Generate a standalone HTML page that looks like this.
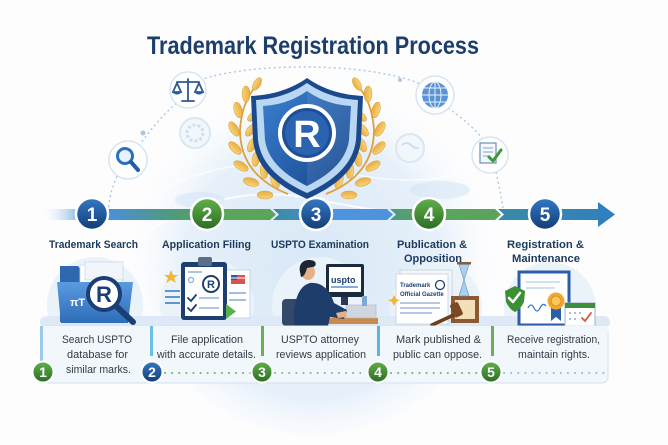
<!DOCTYPE html>
<html><head><meta charset="utf-8"><style>
html,body{margin:0;padding:0;background:#fdfdfe;}
svg{display:block;}
text{font-family:"Liberation Sans",Arial,sans-serif;}
</style></head><body>
<svg width="668" height="445" viewBox="0 0 668 445" xmlns="http://www.w3.org/2000/svg">
<defs>
<radialGradient id="dome" cx="0.5" cy="0.55" r="0.5">
<stop offset="0" stop-color="#d8e8f7"/><stop offset="0.7" stop-color="#e6f0fa"/><stop offset="1" stop-color="#f7fafd" stop-opacity="0"/>
</radialGradient>
<linearGradient id="gBlue" x1="0" y1="0" x2="0" y2="1"><stop offset="0" stop-color="#3479c4"/><stop offset="1" stop-color="#123d76"/></linearGradient>
<linearGradient id="gGreen" x1="0" y1="0" x2="0" y2="1"><stop offset="0" stop-color="#62b04c"/><stop offset="1" stop-color="#2a6c22"/></linearGradient>
<linearGradient id="segA" x1="40" y1="0" x2="205" y2="0" gradientUnits="userSpaceOnUse">
<stop offset="0" stop-color="#ffffff" stop-opacity="0"/><stop offset="0.2" stop-color="#a6c9ec"/><stop offset="0.4" stop-color="#4b8fdb"/><stop offset="0.8" stop-color="#4f9a7c"/><stop offset="1" stop-color="#58a45a"/>
</linearGradient>
<linearGradient id="segC" x1="273" y1="0" x2="320" y2="0" gradientUnits="userSpaceOnUse"><stop offset="0" stop-color="#3a8aa0"/><stop offset="1" stop-color="#4a90d8"/></linearGradient>
<linearGradient id="segE" x1="390" y1="0" x2="500" y2="0" gradientUnits="userSpaceOnUse"><stop offset="0" stop-color="#4b9a86"/><stop offset="0.3" stop-color="#5ca45a"/><stop offset="1" stop-color="#5aa35c"/></linearGradient>
<linearGradient id="segF" x1="498" y1="0" x2="615" y2="0" gradientUnits="userSpaceOnUse"><stop offset="0" stop-color="#3a8aa8"/><stop offset="1" stop-color="#2f7fbf"/></linearGradient>
<linearGradient id="shIn" x1="0" y1="0" x2="1" y2="1"><stop offset="0" stop-color="#3b7fcf"/><stop offset="1" stop-color="#16468c"/></linearGradient>
<linearGradient id="folder" x1="0" y1="0" x2="0" y2="1"><stop offset="0" stop-color="#5a9be0"/><stop offset="1" stop-color="#2f6cb8"/></linearGradient>
<linearGradient id="gold" x1="0" y1="0" x2="0" y2="1"><stop offset="0" stop-color="#f8d57a"/><stop offset="1" stop-color="#e8ac40"/></linearGradient>
</defs>

<!-- dome background -->
<circle cx="313" cy="250" r="185" fill="url(#dome)"/>
<path d="M150 230 Q230 180 320 200 T480 210" fill="none" stroke="#ffffff" stroke-width="2" opacity="0.8"/>
<path d="M160 190 Q240 150 330 170 T470 170" fill="none" stroke="#ffffff" stroke-width="1.5" opacity="0.7"/>
<ellipse cx="200" cy="200" rx="25" ry="8" fill="#d5e6f5" opacity="0.6"/>
<ellipse cx="440" cy="190" rx="30" ry="9" fill="#d5e6f5" opacity="0.6"/>
<!-- faint secondary icons -->
<circle cx="195" cy="133" r="15" fill="#f2f7fc" stroke="#d9e7f3" stroke-width="2"/>
<circle cx="195" cy="133" r="8" fill="none" stroke="#cddff0" stroke-width="3" stroke-dasharray="3 2"/>
<circle cx="410" cy="148" r="14" fill="#f2f7fc" stroke="#d9e7f3" stroke-width="2"/>
<path d="M402 145 q5 -4 9 0 t8 3" fill="none" stroke="#cddff0" stroke-width="2"/>

<!-- dashed arcs -->
<g fill="none" stroke="#a9c8e6" stroke-width="1.4" stroke-dasharray="2 3">
<path d="M108 212 C110 190 116 175 124 165"/>
<path d="M136 150 C150 130 165 112 178 102"/>
<path d="M200 80 C250 62 370 62 420 84"/>
<path d="M448 108 C462 118 474 128 482 138"/>
<path d="M496 172 C499 185 501 196 503 208"/>
</g>
<circle cx="143" cy="133" r="2.5" fill="#a9c8e6"/>
<circle cx="400" cy="80" r="2" fill="#a9c8e6"/>

<!-- icon circles -->
<circle cx="188" cy="90" r="18" fill="#ffffff" stroke="#d6e5f2" stroke-width="1.5"/>
<g stroke="#2c5a92" stroke-width="1.8" fill="none" stroke-linecap="round">
<line x1="188" y1="79" x2="188" y2="100"/><line x1="177" y1="82" x2="199" y2="82"/>
<line x1="182" y1="101" x2="194" y2="101"/>
<path d="M177 83 L173 92 L181 92 Z M199 83 L195 92 L203 92 Z"/>
</g>
<path d="M172 92 Q177 97 182 92 Z M194 92 Q199 97 204 92 Z" fill="#2c5a92"/>

<circle cx="128" cy="160" r="19" fill="#ffffff" stroke="#d6e5f2" stroke-width="1.5"/>
<circle cx="125" cy="156" r="7.5" fill="#e8f2fc" stroke="#2c6fbf" stroke-width="3"/>
<line x1="131" y1="162" x2="138" y2="170" stroke="#1f5ea8" stroke-width="4" stroke-linecap="round"/>

<circle cx="435" cy="95" r="19" fill="#ffffff" stroke="#d6e5f2" stroke-width="1.5"/>
<circle cx="435" cy="95" r="13" fill="#5b93d6"/>
<g stroke="#e8f1fb" stroke-width="1" fill="none">
<ellipse cx="435" cy="95" rx="6" ry="13"/><line x1="435" y1="82" x2="435" y2="108"/>
<line x1="422" y1="95" x2="448" y2="95"/><line x1="424" y1="88" x2="446" y2="88"/><line x1="424" y1="102" x2="446" y2="102"/>
</g>

<circle cx="490" cy="155" r="18" fill="#ffffff" stroke="#d6e5f2" stroke-width="1.5"/>
<rect x="480" y="143" width="16" height="20" fill="#f4f8fc" stroke="#6a8fb8" stroke-width="1.2"/>
<g stroke="#7fa3cc" stroke-width="1"><line x1="483" y1="148" x2="493" y2="148"/><line x1="483" y1="152" x2="493" y2="152"/><line x1="483" y1="156" x2="490" y2="156"/></g>
<path d="M489 157 L493 161 L501 150" fill="none" stroke="#3f9a35" stroke-width="3" stroke-linecap="round" stroke-linejoin="round"/>

<!-- laurels -->
<g id="laurelL" fill="url(#gold)" stroke="#dc9a30" stroke-width="0.5">
<path d="M288 194 Q240 175 240 130 Q242 100 258 84" fill="none" stroke="#dca040" stroke-width="1.8"/>
<ellipse cx="265" cy="195" rx="8" ry="4" transform="rotate(180 265 195)"/>
<ellipse cx="275" cy="181" rx="7.5" ry="3.8" transform="rotate(250 275 181)"/>
<ellipse cx="251" cy="182" rx="8" ry="4" transform="rotate(195 251 182)"/>
<ellipse cx="264" cy="171" rx="7.5" ry="3.8" transform="rotate(265 264 171)"/>
<ellipse cx="241" cy="166" rx="8" ry="4" transform="rotate(210 241 166)"/>
<ellipse cx="256" cy="159" rx="7.5" ry="3.8" transform="rotate(280 256 159)"/>
<ellipse cx="235" cy="148" rx="8" ry="4" transform="rotate(225 235 148)"/>
<ellipse cx="252" cy="145" rx="7.5" ry="3.8" transform="rotate(295 252 145)"/>
<ellipse cx="234" cy="129" rx="8" ry="4" transform="rotate(240 234 129)"/>
<ellipse cx="251" cy="130" rx="7.5" ry="3.8" transform="rotate(310 251 130)"/>
<ellipse cx="238" cy="110" rx="8" ry="4" transform="rotate(255 238 110)"/>
<ellipse cx="254" cy="116" rx="7.5" ry="3.8" transform="rotate(325 254 116)"/>
<ellipse cx="246" cy="94" rx="8" ry="4" transform="rotate(269 246 94)"/>
<ellipse cx="261" cy="104" rx="7.5" ry="3.8" transform="rotate(339 261 104)"/>
<ellipse cx="257" cy="84" rx="7" ry="3.5" transform="rotate(300 257 84)"/>
</g>
<use href="#laurelL" transform="translate(614,0) scale(-1,1)"/>

<!-- shield -->
<path d="M307 78 C290 90 271 95 251 96 L253 140 C256 170 280 187 307 199 C334 187 358 170 361 140 L363 96 C343 95 324 90 307 78 Z" fill="#1a4a8c"/>
<path d="M307 83 C291 94 274 99 256 100 L258 140 C261 166 283 182 307 193 C331 182 353 166 356 140 L358 100 C340 99 323 94 307 83 Z" fill="#b9d6f2"/>
<path d="M307 91 C293 101 278 105 263 106 L265 140 C268 162 287 176 307 186 C327 176 346 162 349 140 L351 106 C336 105 321 101 307 91 Z" fill="url(#shIn)"/>
<path d="M307 91 L307 186 C327 176 346 162 349 140 L351 106 C336 105 321 101 307 91 Z" fill="#ffffff" opacity="0.08"/>
<circle cx="307" cy="133" r="27" fill="#1c4f98" stroke="#ffffff" stroke-width="4"/>
<circle cx="307" cy="133" r="22" fill="#2a63b0"/>
<text x="307" y="147" font-size="38" font-weight="bold" fill="#ffffff" text-anchor="middle">R</text>

<!-- title -->
<text x="147" y="54" font-size="25" font-weight="bold" fill="#1d3d6b" textLength="332" lengthAdjust="spacingAndGlyphs">Trademark Registration Process</text>

<!-- progress bar -->
<rect x="40" y="209" width="165" height="11" fill="url(#segA)"/>
<polygon points="200,209 270,209 276,214.5 270,220 200,220" fill="#5aa55a"/>
<polygon points="273,209 320,209 320,220 273,220 279,214.5" fill="url(#segC)"/>
<polygon points="320,209 387,209 393,214.5 387,220 320,220" fill="#4e93dd"/>
<polygon points="390,209 495,209 501,214.5 495,220 390,220 396,214.5" fill="url(#segE)"/>
<polygon points="498,209 598,209 598,202 615,214.5 598,227 598,220 498,220 504,214.5" fill="url(#segF)"/>

<g font-size="19" font-weight="bold" fill="#ffffff" text-anchor="middle">
<circle cx="92" cy="214" r="16" fill="url(#gBlue)" stroke="#ffffff" stroke-width="2.5"/><text x="92" y="221">1</text>
<circle cx="207" cy="214" r="16" fill="url(#gGreen)" stroke="#ffffff" stroke-width="2.5"/><text x="207" y="221">2</text>
<circle cx="316" cy="214" r="16" fill="url(#gBlue)" stroke="#ffffff" stroke-width="2.5"/><text x="316" y="221">3</text>
<circle cx="429" cy="214" r="16" fill="url(#gGreen)" stroke="#ffffff" stroke-width="2.5"/><text x="429" y="221">4</text>
<circle cx="545" cy="214" r="16" fill="url(#gBlue)" stroke="#ffffff" stroke-width="2.5"/><text x="545" y="221">5</text>
</g>

<!-- step titles -->
<g font-size="11" font-weight="bold" fill="#1b3a5c">
<text x="49" y="248" textLength="89" lengthAdjust="spacingAndGlyphs">Trademark Search</text>
<text x="162" y="248" textLength="89" lengthAdjust="spacingAndGlyphs">Application Filing</text>
<text x="271" y="248" textLength="98" lengthAdjust="spacingAndGlyphs">USPTO Examination</text>
<text x="397" y="248" textLength="70" lengthAdjust="spacingAndGlyphs">Publication &amp;</text>
<text x="404" y="262" textLength="58" lengthAdjust="spacingAndGlyphs">Opposition</text>
<text x="507" y="248" textLength="77" lengthAdjust="spacingAndGlyphs">Registration &amp;</text>
<text x="512" y="262" textLength="68" lengthAdjust="spacingAndGlyphs">Maintenance</text>
</g>

<!-- column backdrops -->
<g fill="#eaf2fa">
<circle cx="95" cy="305" r="48"/><circle cx="207" cy="305" r="47"/><circle cx="320" cy="305" r="48"/><circle cx="436" cy="308" r="46"/><circle cx="550" cy="308" r="46"/>
</g>
<rect x="40" y="316" width="570" height="12" rx="6" fill="#dde9f6"/>

<!-- step 1 folder -->
<path d="M60 322 L60 266 L78 266 L82 271 L122 271 L122 322 Z" fill="#2f68b0"/>
<rect x="80" y="265" width="42" height="22" fill="#ffffff" stroke="#c9d9ea" stroke-width="0.8"/>
<rect x="85" y="262" width="38" height="18" fill="#f2f6fb" stroke="#c9d9ea" stroke-width="0.8"/>
<path d="M57 282 L133 282 L128 323 L61 323 Z" fill="url(#folder)"/>
<text x="70" y="306" font-size="11" font-weight="bold" fill="#ffffff">πT</text>
<line x1="116" y1="306" x2="133" y2="322" stroke="#1b3f74" stroke-width="6" stroke-linecap="round"/>
<circle cx="104" cy="294" r="16" fill="#ffffff" stroke="#1b3f74" stroke-width="4"/>
<text x="104" y="302" font-size="22" font-weight="bold" fill="#1b3f74" text-anchor="middle">R</text>

<!-- step 2 clipboard -->
<g stroke="#5d96d3" stroke-width="2"><line x1="165" y1="291" x2="180" y2="291"/><line x1="165" y1="297" x2="180" y2="297"/><line x1="165" y1="303" x2="180" y2="303"/></g>
<polygon points="171,270 173,275 178,275 174,278 176,283 171,280 166,283 168,278 164,275 169,275" fill="#f2b632"/>
<rect x="222" y="270" width="28" height="48" fill="#ffffff" stroke="#c6d6e8"/>
<rect x="231" y="275" width="14" height="9" fill="#d9534f"/><rect x="231" y="275" width="6" height="5" fill="#2b5aa0"/>
<line x1="231" y1="278" x2="245" y2="278" stroke="#fff" stroke-width="1"/>
<g stroke="#9fc0e3" stroke-width="2"><line x1="229" y1="293" x2="246" y2="293"/><line x1="229" y1="300" x2="246" y2="300"/></g>
<rect x="181" y="262" width="46" height="58" rx="3" fill="#1d3f70"/>
<rect x="185" y="267" width="38" height="49" fill="#ffffff"/>
<rect x="198" y="257" width="14" height="9" rx="2" fill="#5d6f86"/>
<circle cx="211" cy="284" r="8" fill="#ffffff" stroke="#1d3f70" stroke-width="2"/>
<text x="211" y="288" font-size="11" font-weight="bold" fill="#1d3f70" text-anchor="middle">R</text>
<circle cx="191" cy="280" r="2.5" fill="none" stroke="#7faee0" stroke-width="1.2"/>
<g fill="none" stroke="#1d3f70" stroke-width="1.8" stroke-linecap="round"><path d="M188 298 L191 301 L196 295"/><path d="M188 308 L191 311 L196 305"/></g>
<g stroke="#9fc0e3" stroke-width="1.8"><line x1="199" y1="298" x2="219" y2="298"/><line x1="199" y1="308" x2="219" y2="308"/><line x1="188" y1="272" x2="202" y2="272"/></g>
<polygon points="226,304 236,311.5 226,319" fill="#5bb04a"/>

<!-- step 3 examiner -->
<rect x="318" y="318" width="60" height="6" fill="#c98a4b"/>
<rect x="346" y="305" width="30" height="13" fill="#cfd6df" stroke="#aab6c4" stroke-width="0.6"/>
<rect x="326" y="264" width="38" height="33" rx="2" fill="#1c2a3e"/>
<rect x="329" y="267" width="32" height="25" fill="#ffffff"/>
<text x="331" y="283" font-size="9" font-weight="bold" fill="#1d3f70">uspto</text>
<line x1="331" y1="287" x2="358" y2="287" stroke="#3b7bc8" stroke-width="1.2"/>
<rect x="341" y="297" width="7" height="8" fill="#2b3a50"/>
<rect x="362" y="296" width="5" height="10" fill="#7fa8d6"/>
<rect x="282" y="299" width="26" height="27" rx="4" fill="#34496a"/>
<path d="M294 326 C293 302 298 286 310 283 C322 282 330 290 334 303 L347 310 L344 319 L330 317 L328 326 Z" fill="#1f3d6b"/>
<path d="M336 313 L346 311 L347 317 L338 318 Z" fill="#e5b08a"/>
<ellipse cx="308" cy="272" rx="7" ry="8" fill="#e5b08a"/>
<path d="M300 272 C298 262 306 258 314 261 C317 263 316 267 312 267 L307 268 C306 272 304 277 301 277 Z" fill="#1d2535"/>

<!-- step 4 publication -->
<rect x="400" y="270" width="52" height="50" fill="#f2f5f9" stroke="#cfd8e3"/>
<rect x="396" y="274" width="52" height="50" fill="#ffffff" stroke="#cfd8e3"/>
<text x="400" y="287" font-size="6" font-weight="bold" fill="#1d3f70">Trademark</text>
<text x="400" y="296" font-size="6" font-weight="bold" fill="#1d3f70">Official Gazette</text>
<circle cx="440" cy="285" r="4.5" fill="none" stroke="#1d3f70" stroke-width="1.3"/>
<g stroke="#9fb8d6" stroke-width="1.4"><line x1="400" y1="303" x2="440" y2="303"/><line x1="400" y1="308" x2="440" y2="308"/><line x1="400" y1="313" x2="432" y2="313"/></g>
<polygon points="394,295 396,299 400,300 396,302 394,306 392,302 388,300 392,299" fill="#f2b632"/>
<rect x="451" y="296" width="28" height="27" fill="#8a5a32"/>
<rect x="455" y="300" width="20" height="19" fill="#f3dfb8"/>
<rect x="457" y="262" width="14" height="2.5" fill="#8a5a32"/><rect x="457" y="296" width="14" height="2.5" fill="#8a5a32"/>
<path d="M459 264.5 L469 264.5 L464 280 Z M464 280 L459 296 L469 296 Z" fill="#a9d0f0" stroke="#6d8fb3" stroke-width="0.6"/>
<line x1="432" y1="325" x2="458" y2="313" stroke="#6a3f1f" stroke-width="3.5" stroke-linecap="round"/>
<rect x="452" y="303" width="9" height="14" rx="2" fill="#7a4a25" transform="rotate(-25 456 310)"/>

<!-- step 5 registration -->
<rect x="519" y="272" width="50" height="53" fill="#ffffff" stroke="#2a5ea8" stroke-width="3"/>
<g stroke="#b9cde3" stroke-width="1.3"><line x1="526" y1="282" x2="560" y2="282"/><line x1="526" y1="288" x2="555" y2="288"/></g>
<path d="M528 308 q3 -6 6 0 t6 0 t6 -2" fill="none" stroke="#3a7ac4" stroke-width="1.3"/>
<polygon points="551,306 561,306 561,321 556,317 551,321" fill="#2d5fa8"/>
<circle cx="556" cy="301" r="8.5" fill="#f0a830"/><circle cx="556" cy="301" r="5" fill="#f8c85a" stroke="#e08e20" stroke-width="1"/>
<path d="M505 291 L515 286 L525 291 L524 302 Q520 310 515 312 Q510 310 506 302 Z" fill="#3c8f33"/>
<path d="M509 298 L513 302 L520 293" fill="none" stroke="#ffffff" stroke-width="2.5" stroke-linecap="round" stroke-linejoin="round"/>
<rect x="565" y="303" width="30" height="23" fill="#ffffff" stroke="#9fb3c8"/>
<rect x="565" y="303" width="30" height="5" fill="#3e8e3e"/>
<g fill="#8ea9c6"><circle cx="570" cy="313" r="1"/><circle cx="575" cy="313" r="1"/><circle cx="580" cy="313" r="1"/><circle cx="570" cy="319" r="1"/><circle cx="575" cy="319" r="1"/></g>
<path d="M582 318 L585 321 L591 313" fill="none" stroke="#e0553a" stroke-width="1.8" stroke-linecap="round"/>

<!-- bottom panel -->
<rect x="42" y="326" width="566" height="57" rx="6" fill="#f2f7fc" stroke="#d3e2f0" stroke-width="1"/>
<rect x="42" y="326" width="566" height="8" fill="#f2f7fc"/>
<rect x="40" y="326" width="3" height="38" fill="#9cc8ea"/>
<rect x="150" y="326" width="3" height="30" fill="#6cc0e6"/>
<rect x="261" y="326" width="3" height="30" fill="#6aad5a"/>
<rect x="377" y="326" width="3" height="30" fill="#5bb6dc"/>
<rect x="491" y="326" width="3" height="30" fill="#6aad5a"/>

<g font-size="11" fill="#333a44">
<text x="62" y="343" textLength="70" lengthAdjust="spacingAndGlyphs">Search USPTO</text>
<text x="67" y="358" textLength="61" lengthAdjust="spacingAndGlyphs">database for</text>
<text x="66" y="373" textLength="65" lengthAdjust="spacingAndGlyphs">similar marks.</text>
<text x="171" y="343" textLength="72" lengthAdjust="spacingAndGlyphs">File application</text>
<text x="157" y="358" textLength="99" lengthAdjust="spacingAndGlyphs">with accurate details.</text>
<text x="281" y="343" textLength="78" lengthAdjust="spacingAndGlyphs">USPTO attorney</text>
<text x="276" y="358" textLength="90" lengthAdjust="spacingAndGlyphs">reviews application</text>
<text x="396" y="343" textLength="85" lengthAdjust="spacingAndGlyphs">Mark published &amp;</text>
<text x="393" y="358" textLength="89" lengthAdjust="spacingAndGlyphs">public can oppose.</text>
<text x="507" y="343" textLength="93" lengthAdjust="spacingAndGlyphs">Receive registration,</text>
<text x="518" y="358" textLength="72" lengthAdjust="spacingAndGlyphs">maintain rights.</text>
</g>

<!-- dotted connectors -->
<line x1="165" y1="373" x2="252" y2="373" stroke="#6fb56a" stroke-width="2" stroke-dasharray="0.1 7" stroke-linecap="round"/>
<line x1="275" y1="373" x2="367" y2="373" stroke="#6fb8b0" stroke-width="2" stroke-dasharray="0.1 7" stroke-linecap="round"/>
<line x1="391" y1="373" x2="480" y2="373" stroke="#6fb56a" stroke-width="2" stroke-dasharray="0.1 7" stroke-linecap="round"/>
<line x1="504" y1="373" x2="605" y2="373" stroke="#8cc0e6" stroke-width="2" stroke-dasharray="0.1 7" stroke-linecap="round"/>

<g font-size="14" font-weight="bold" fill="#ffffff" text-anchor="middle">
<circle cx="43" cy="372" r="10.5" fill="url(#gGreen)" stroke="#ffffff" stroke-width="2"/><text x="43" y="377">1</text>
<circle cx="152" cy="372" r="10.5" fill="url(#gBlue)" stroke="#ffffff" stroke-width="2"/><text x="152" y="377">2</text>
<circle cx="262" cy="372" r="10.5" fill="url(#gGreen)" stroke="#ffffff" stroke-width="2"/><text x="262" y="377">3</text>
<circle cx="378" cy="372" r="10.5" fill="url(#gGreen)" stroke="#ffffff" stroke-width="2"/><text x="378" y="377">4</text>
<circle cx="491" cy="372" r="10.5" fill="url(#gGreen)" stroke="#ffffff" stroke-width="2"/><text x="491" y="377">5</text>
</g>
</svg>
</body></html>
